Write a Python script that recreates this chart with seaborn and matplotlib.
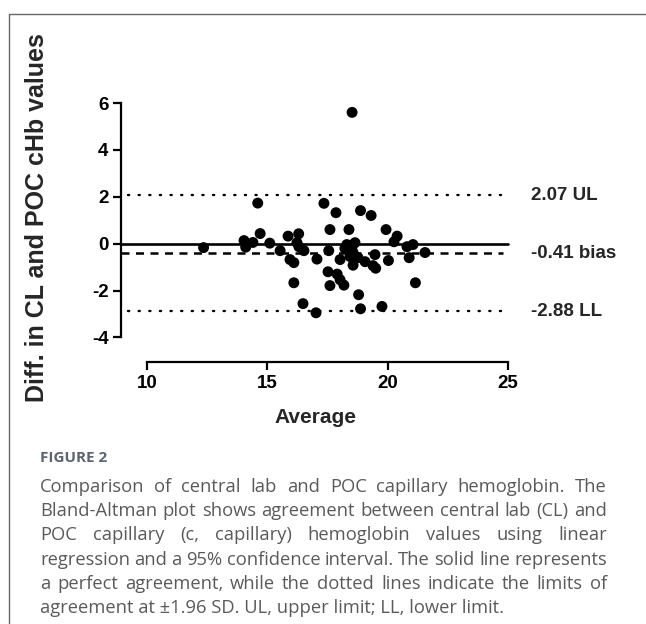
import matplotlib
matplotlib.use("Agg")
import matplotlib.pyplot as plt
import seaborn as sns
import pandas as pd
from matplotlib.lines import Line2D

# Bland-Altman data: average of both methods vs difference (CL - POC)
average = [12.35, 14.6, 14.03, 14.1, 14.4, 14.7, 15.1, 15.53, 15.86, 16.3,
           16.23, 16.31, 16.52, 15.94, 16.1, 16.1, 16.48, 17.02, 17.06, 17.35,
           17.85, 17.6, 17.55, 17.52, 17.9, 17.6, 18.02, 18.52, 18.87, 19.31,
           18.39, 19.93, 20.39, 20.26, 21.05, 20.8, 21.55, 20.89, 20.03, 19.47,
           19.5, 19.39, 19.06, 21.15, 18.79, 18.87, 19.76, 18.02, 18.18, 18.52,
           18.3, 18.64, 18.56, 18.43, 18.77, 18.56, 18.22]
difference = [-0.17, 1.73, 0.13, -0.15, 0.05, 0.43, 0.02, -0.3, 0.32, 0.42,
              0.04, -0.13, -0.3, -0.68, -0.81, -1.67, -2.56, -2.95, -0.66, 1.72,
              1.32, 0.6, -0.3, -1.2, -1.3, -1.79, -0.68, 5.6, 1.41, 1.2,
              0.6, 0.6, 0.32, 0.08, -0.04, -0.13, -0.38, -0.6, -0.72, -0.47,
              -1.05, -0.94, -0.77, -1.67, -2.18, -2.78, -2.68, -1.54, -1.77, -0.13,
              -0.04, 0.04, -0.38, -0.55, -0.6, -0.92, -0.2]

bias = -0.41
upper = 2.07
lower = -2.88
ref_labels = ["2.07 UL", "-0.41 bias", "-2.88 LL"]

x_ticks = [10, 15, 20, 25]
y_ticks = [-4, -2, 0, 2, 4, 6]

caption_title = "FIGURE 2"
caption_lines = [
    "Comparison of central lab and POC capillary hemoglobin. The",
    "Bland-Altman plot shows agreement between central lab (CL) and",
    "POC capillary (c, capillary) hemoglobin values using linear",
    "regression and a 95% confidence interval. The solid line represents",
    "a perfect agreement, while the dotted lines indicate the limits of",
    "agreement at \u00b11.96 SD. UL, upper limit; LL, lower limit.",
]

df = pd.DataFrame({"Average": average, "Difference": difference})

sns.set_theme(style="ticks")
plt.rcParams["font.family"] = ["Liberation Sans", "DejaVu Sans"]
plt.rcParams["font.weight"] = "bold"
plt.rcParams["axes.unicode_minus"] = False

W, H = 646, 624
fig = plt.figure(figsize=(W / 100, H / 100), dpi=100)
ax = fig.add_axes([121 / W, 1 - 362 / H, (510.5 - 121) / W, (362 - 103) / H])

sns.scatterplot(data=df, x="Average", y="Difference", ax=ax, color="black",
                s=62, edgecolor="none", zorder=3)

x0 = 8.92
ax.plot([x0, 25.0], [0, 0], color="black", lw=1.9, zorder=2)
ax.plot([x0, 24.8], [bias, bias], color="black", lw=1.8, ls=(0, (3.2, 2.6)), zorder=2)
for v in (upper, lower):
    ax.plot([9.2, 24.8], [v, v], color="black", lw=1.7, ls=(0, (0.5, 4.0)),
            dash_capstyle="round", zorder=2)

ax.set_xlim(x0, 25.1)
ax.set_ylim(-5.05, 6.0)
ax.set_xticks(x_ticks)
ax.set_yticks(y_ticks)
ax.spines["top"].set_visible(False)
ax.spines["right"].set_visible(False)
ax.spines["bottom"].set_bounds(10, 25)
ax.spines["left"].set_bounds(-4, 6)
for s in ("bottom", "left"):
    ax.spines[s].set_linewidth(1.6)
    ax.spines[s].set_color("black")
ax.tick_params(axis="both", length=6, width=1.6, color="black", labelsize=13.5,
               pad=3, labelcolor="black")
for lab in ax.get_xticklabels() + ax.get_yticklabels():
    lab.set_fontweight("bold")

ax.set_xlabel("Average", fontsize=15, fontweight="bold", labelpad=12)
ax.set_ylabel("")
fig.text(37 / W, 1 - 218 / H, "Diff. in CL and POC cHb values", rotation=90,
         ha="center", va="center", fontsize=18, fontweight="bold")

for v, t in zip((upper, bias, lower), ref_labels):
    ax.text(25.95, v, t, ha="left", va="center", fontsize=13.5, fontweight="bold",
            clip_on=False)

# page frame
fig.add_artist(Line2D([9 / W, 9 / W], [0, 1 - 14 / H], transform=fig.transFigure,
                      color="#666666", lw=1))
fig.add_artist(Line2D([9 / W, 1], [1 - 14 / H, 1 - 14 / H], transform=fig.transFigure,
                      color="#666666", lw=1))

# caption
cap_font = ["Open Sans", "DejaVu Sans"]
fig.text(40 / W, 1 - 458 / H, caption_title, ha="left", va="center", fontsize=11,
         fontweight="bold", color="#5b6472", family=cap_font)

left_px, right_px = 40, 607
line_y = [487, 511, 535, 560, 584, 608]
cap_size = 13.2
fig.canvas.draw()
renderer = fig.canvas.get_renderer()
for i, (line, ypx) in enumerate(zip(caption_lines, line_y)):
    yf = 1 - ypx / H
    if i == len(caption_lines) - 1:
        fig.text(left_px / W, yf, line, ha="left", va="center", fontsize=cap_size,
                 fontweight="normal", color="#5a5a5a", family=cap_font)
        continue
    words = line.split(" ")
    arts = [fig.text(0, yf, w, ha="left", va="center", fontsize=cap_size,
                     fontweight="normal", color="#5a5a5a", family=cap_font)
            for w in words]
    widths = [a.get_window_extent(renderer).width for a in arts]
    gap = (right_px - left_px - sum(widths)) / (len(words) - 1)
    x = left_px
    for a, w in zip(arts, widths):
        a.set_x(x / W)
        x += w + gap

fig.savefig("out.png", dpi=100)
